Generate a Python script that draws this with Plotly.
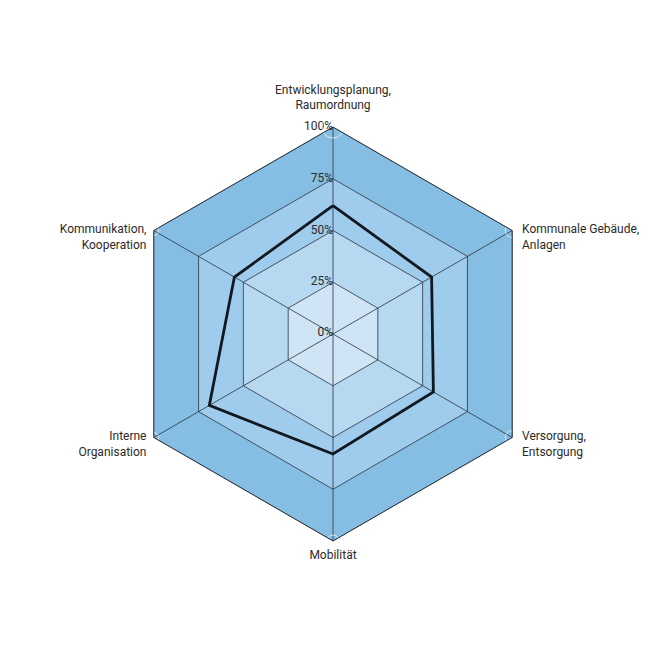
import plotly.graph_objects as go

categories = [
    "Entwicklungsplanung,<br>Raumordnung",
    "Kommunale Gebäude,<br>Anlagen",
    "Versorgung,<br>Entsorgung",
    "Mobilität",
    "Interne<br>Organisation",
    "Kommunikation,<br>Kooperation",
]
values = [62, 55, 56, 58, 69, 55]
ring_levels = [100, 75, 50, 25]
ring_colors = ["#86bde3", "#9fcbec", "#b6d8f1", "#cfe5f6"]
tick_vals = [0, 25, 50, 75, 100]
tick_text = ["0%", "25%", "50%", "75%", "100%"]

GRID = "#2a3440"
TXT = "#2b2b2b"
fig = go.Figure()
for lvl, col in zip(ring_levels, ring_colors):
    fig.add_trace(go.Scatterpolar(
        r=[lvl] * len(categories) + [lvl],
        theta=categories + [categories[0]],
        mode="lines", fill="toself", fillcolor=col,
        line=dict(color=GRID, width=0.8),
        hoverinfo="skip", showlegend=False,
    ))

for cat in categories:
    fig.add_trace(go.Scatterpolar(
        r=[0, 100], theta=[cat, cat], mode="lines",
        line=dict(color=GRID, width=0.8),
        hoverinfo="skip", showlegend=False,
    ))

fig.add_trace(go.Scatterpolar(
    r=values + [values[0]],
    theta=categories + [categories[0]],
    mode="lines",
    line=dict(color="#111820", width=2.8),
    showlegend=False,
))

# radial tick labels; the centre label is nudged off r=0 so plotly renders it
fig.add_trace(go.Scatterpolar(
    r=[max(tv, 0.3) for tv in tick_vals], theta=[categories[0]] * len(tick_vals),
    mode="text", text=tick_text, textposition="middle left",
    textfont=dict(family="Roboto", size=12, color=TXT),
    cliponaxis=False, hoverinfo="skip", showlegend=False,
))

# category labels at the outer vertices
label_pos = ["top center", "middle right", "middle right",
             "bottom center", "middle left", "middle left"]
label_text = [c if p.endswith("center") else "<br>" + c
              for c, p in zip(categories, label_pos)]
label_pad = [22, 14, 14, 12, 10, 10]
fig.add_trace(go.Scatterpolar(
    r=[100] * len(categories), theta=categories,
    mode="markers+text", text=label_text, textposition=label_pos,
    marker=dict(size=label_pad, color="rgba(0,0,0,0)"),
    textfont=dict(family="Roboto", size=12, color=TXT),
    cliponaxis=False, hoverinfo="skip", showlegend=False,
))

off = 8 / 667
fig.update_layout(
    width=667, height=667,
    paper_bgcolor="white",
    margin=dict(l=0, r=0, t=0, b=0),
    font=dict(family="Roboto", size=12, color=TXT),
    polar=dict(
        domain=dict(x=[126 / 667 - off, 540 / 667 - off], y=[126 / 667 + off, 540 / 667 + off]),
        gridshape="linear",
        bgcolor="rgba(0,0,0,0)",
        angularaxis=dict(
            direction="clockwise", rotation=90,
            showline=True, linecolor=GRID, linewidth=1,
            showgrid=False, showticklabels=False, ticks="",
        ),
        radialaxis=dict(
            range=[0, 100], showticklabels=False,
            showline=False, ticks="", showgrid=False,
        ),
    ),
)

fig.write_html("out.html")
